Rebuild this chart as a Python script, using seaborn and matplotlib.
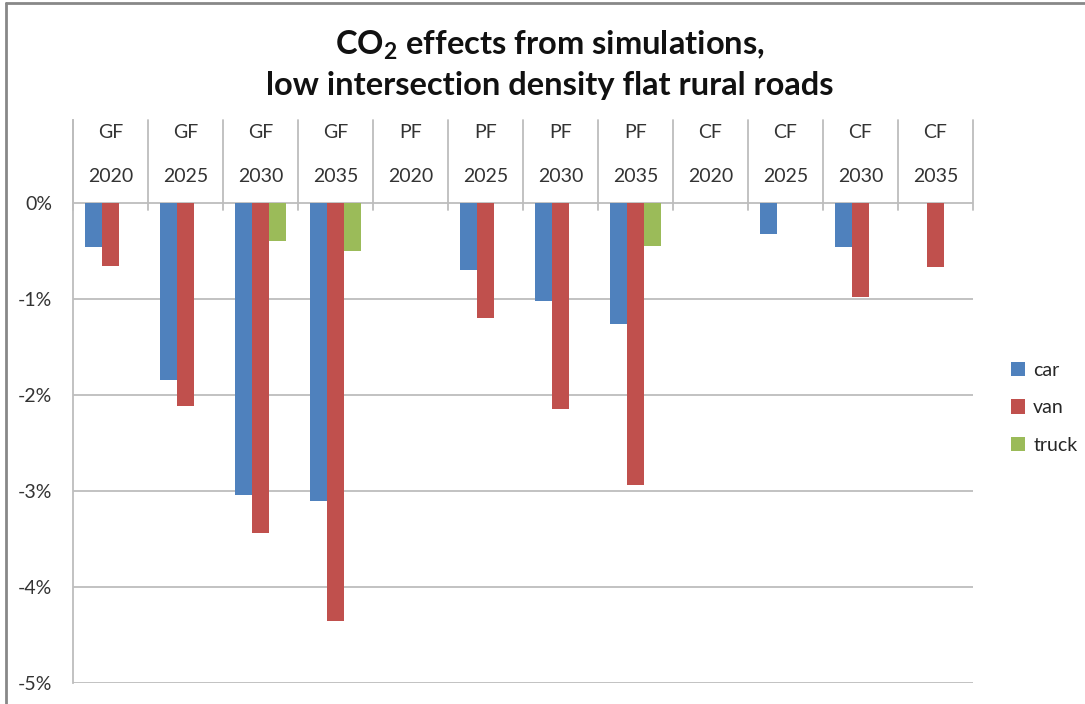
import matplotlib
matplotlib.use("Agg")
import matplotlib.pyplot as plt
from matplotlib.ticker import FuncFormatter
from matplotlib.patches import Patch
import seaborn as sns
import pandas as pd

# Scenario groups and years along the category axis
fuels = ["GF"] * 4 + ["PF"] * 4 + ["CF"] * 4
years = ["2020", "2025", "2030", "2035"] * 3

# CO2 change in percent per vehicle type
car = [-0.46, -1.84, -3.04, -3.10, 0.0, -0.70, -1.02, -1.26, 0.0, -0.32, -0.46, 0.0]
van = [-0.66, -2.11, -3.44, -4.35, 0.0, -1.20, -2.15, -2.94, 0.0, 0.0, -0.98, -0.67]
truck = [0.0, 0.0, -0.40, -0.50, 0.0, 0.0, 0.0, -0.45, 0.0, 0.0, 0.0, 0.0]

series = ["car", "van", "truck"]
colors = ["#4F81BD", "#C0504D", "#9BBB59"]

cats = [f"{f} {y}" for f, y in zip(fuels, years)]
rows = []
for name, vals in zip(series, [car, van, truck]):
    for c, v in zip(cats, vals):
        rows.append({"category": c, "vehicle": name, "value": v})
df = pd.DataFrame(rows)

sns.set_theme(style="white")
plt.rcParams["font.family"] = ["Lato", "DejaVu Sans"]
plt.rcParams["mathtext.fontset"] = "custom"
plt.rcParams["mathtext.rm"] = "Lato"
plt.rcParams["mathtext.bf"] = "Lato:bold"

W, H = 1085, 704
fig = plt.figure(figsize=(W / 100, H / 100), dpi=100)
fig.patch.set_facecolor("white")

ax_left, ax_right, ax_top, ax_bottom = 73, 973, 120, 683
ax = fig.add_axes([ax_left / W, (H - ax_bottom) / H,
                   (ax_right - ax_left) / W, (ax_bottom - ax_top) / H])

sns.barplot(data=df, x="category", y="value", hue="vehicle", order=cats,
            hue_order=series, palette=colors, width=0.667, linewidth=0,
            saturation=1, legend=False, ax=ax)

grid_col = "#BDBDBD"
txt_col = "#333333"
fs = 14
ymax = 0.865
ax.set_xlim(-0.5, len(cats) - 0.5)
ax.set_ylim(-5, ymax)
ax.set_yticks([0, -1, -2, -3, -4, -5])
ax.yaxis.set_major_formatter(FuncFormatter(lambda v, p: f"{int(round(v))}%"))
ax.tick_params(axis="y", labelsize=fs, labelcolor=txt_col, length=5, width=1.2,
               direction="out", pad=10, color=grid_col)
ax.tick_params(axis="x", length=0, labelbottom=False)
ax.set_xlabel("")
ax.set_ylabel("")

for yv in [0, -1, -2, -3, -4, -5]:
    ax.axhline(yv, color=grid_col, lw=1.3, zorder=0)
ax.set_axisbelow(True)

for s in ["top", "right", "bottom"]:
    ax.spines[s].set_visible(False)
ax.spines["left"].set_color(grid_col)
ax.spines["left"].set_linewidth(1.3)

# Two-level category labels above the zero line
for i in range(len(cats) + 1):
    ax.plot([i - 0.5, i - 0.5], [ymax, -0.07], color=grid_col, lw=1.3,
            clip_on=False, zorder=1)
for i, (f, y) in enumerate(zip(fuels, years)):
    ax.text(i, 0.73, f, ha="center", va="center", fontsize=fs, color=txt_col)
    ax.text(i, 0.28, y, ha="center", va="center", fontsize=fs, color=txt_col)

title_fs = 23.5
fig.text(550 / W, 1 - 45 / H, r"CO$_\mathbf{2}$ effects from simulations,",
         ha="center", va="center", fontsize=title_fs, fontweight="bold", color="#111111")
fig.text(550 / W, 1 - 85 / H, "low intersection density flat rural roads",
         ha="center", va="center", fontsize=title_fs, fontweight="bold", color="#111111")

handles = [Patch(facecolor=c, edgecolor="none", label=n) for n, c in zip(series, colors)]
fig.legend(handles=handles, loc="upper left", bbox_to_anchor=(1003 / W, 1 - 354 / H),
           frameon=False, fontsize=fs, handlelength=0.75, handleheight=0.75,
           handletextpad=0.4, labelspacing=1.05, borderaxespad=0)

# Chart frame along the top and left edges
fig.add_artist(plt.Line2D([5.5 / W, 5.5 / W], [0, 1 - 2.5 / H], transform=fig.transFigure,
                          color="#888888", lw=2))
fig.add_artist(plt.Line2D([5.5 / W, 1], [1 - 2.5 / H, 1 - 2.5 / H], transform=fig.transFigure,
                          color="#888888", lw=2))

fig.savefig("out.png", dpi=100)
